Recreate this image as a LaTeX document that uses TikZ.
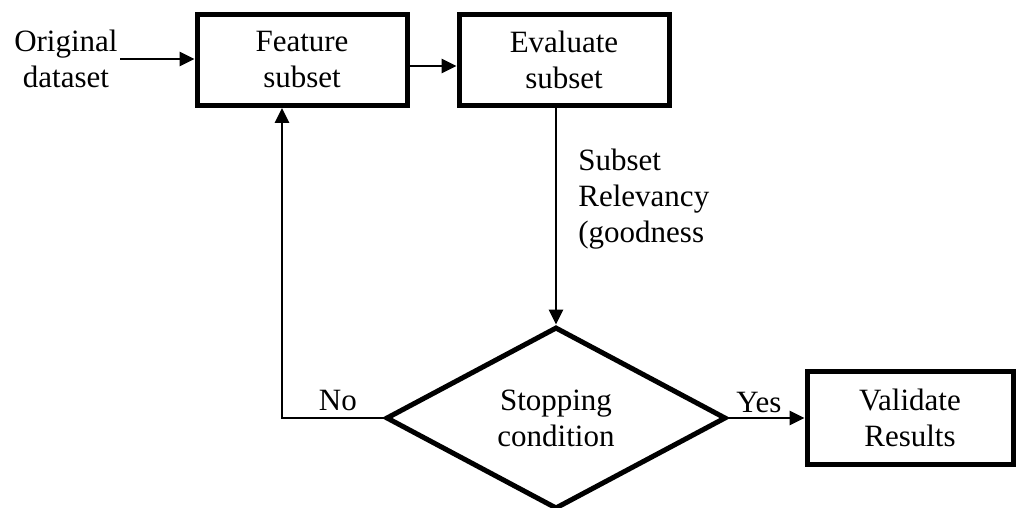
\documentclass[tikz,border=0pt]{standalone}
\usepackage{fontspec}
\setmainfont{Liberation Serif}
\usetikzlibrary{arrows.meta,shapes,positioning,calc}

\tikzset{
	block/.style={draw,line width=2.5pt,minimum width=105pt,minimum height=45.5pt,align=center,inner sep=0pt},
	decision/.style={draw,diamond,line width=2.5pt,minimum width=170pt,minimum height=91pt,align=center,inner sep=0pt},
	flow/.style={line width=1.4pt,-{Triangle[length=7.5pt,width=7pt]}},
	lbl/.style={inner sep=2pt},
}

\begin{document}
\begin{tikzpicture}[x=0.5pt,y=-0.5pt,font=\fontsize{15.5pt}{18pt}\selectfont]

	\useasboundingbox (0,0) rectangle (1017,508);

	\node[block](feat) at (302,60) {Feature\\subset};
	\node[block,right=23.5pt of feat](eval){Evaluate\\subset};
	\node[anchor=east,align=center,inner sep=1pt](orig) at (120,59) {Original\\dataset};

	\node[decision](stop) at (556,418) {Stopping\\condition};
	\node[block,minimum width=103pt,minimum height=46.3pt](valid) at (910,418) {Validate\\Results};

	\coordinate (evalout) at (eval.south -| stop.north);
	\coordinate (back) at ($(feat.south |- stop.west)+(-20,0)$);
	\coordinate (featin) at ($(feat.south)+(-20,0)$);

	\node[anchor=north west,align=left,inner sep=0pt](relev) at (578,149) {Subset\\Relevancy\\(goodness};

	\draw[flow] (orig.east) -- (orig.east -| feat.west);
	\draw[flow] ($(feat.east)+(0,6)$) -- ($(eval.west)+(0,6)$);
	\draw[flow] (evalout) -- (stop.north);
	\draw[flow] (stop.east) -- (valid.west) node[lbl,pos=0.4,above]{Yes};
	\draw[flow] (stop.west) -- (back) node[lbl,inner sep=3pt,pos=0.45,above]{No} -- (featin);

\end{tikzpicture}
\end{document}
